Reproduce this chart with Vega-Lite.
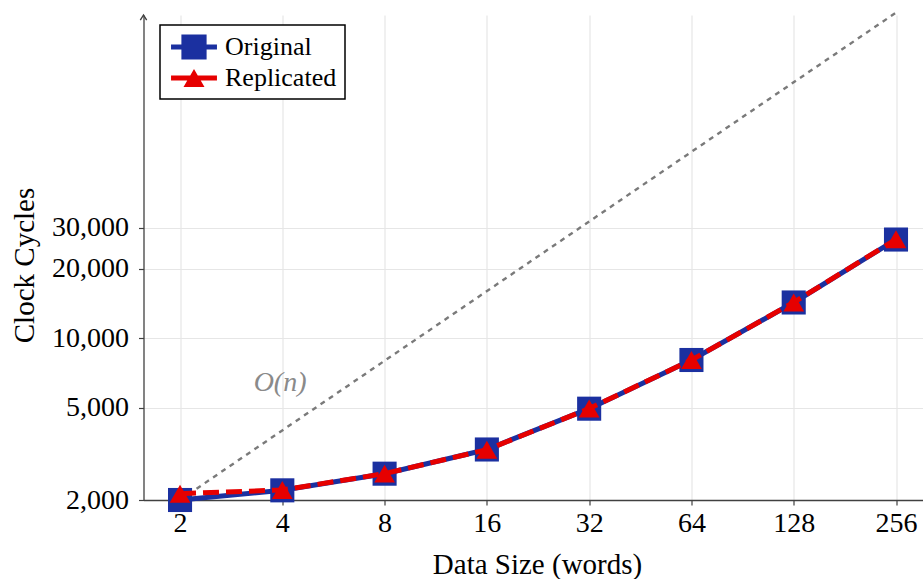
{
  "$schema": "https://vega.github.io/schema/vega-lite/v6.json",
  "autosize": "none",
  "width": 779.5,
  "height": 485,
  "padding": {"left": 143.5, "top": 15, "right": 0, "bottom": 79},
  "background": "white",
  "config": {
    "view": {"stroke": null},
    "font": "Liberation Serif",
    "axis": {
      "labelFont": "Liberation Serif",
      "titleFont": "Liberation Serif",
      "labelColor": "black",
      "titleColor": "black",
      "titleFontWeight": "normal",
      "domainColor": "#404040",
      "domainWidth": 1.3,
      "tickColor": "#404040",
      "tickWidth": 1.2,
      "tickSize": 5,
      "gridColor": "#e6e6e6",
      "gridWidth": 1.2
    },
    "legend": {
      "labelFont": "Liberation Serif",
      "labelColor": "black"
    }
  },
  "datasets": {
    "runs": [
      {"size": 2, "cycles": 2000, "series": "Original"},
      {"size": 4, "cycles": 2202, "series": "Original"},
      {"size": 8, "cycles": 2599, "series": "Original"},
      {"size": 16, "cycles": 3307, "series": "Original"},
      {"size": 32, "cycles": 4964, "series": "Original"},
      {"size": 64, "cycles": 8060, "series": "Original"},
      {"size": 128, "cycles": 14290, "series": "Original"},
      {"size": 256, "cycles": 26740, "series": "Original"},
      {"size": 2, "cycles": 2130, "series": "Replicated"},
      {"size": 4, "cycles": 2210, "series": "Replicated"},
      {"size": 8, "cycles": 2600, "series": "Replicated"},
      {"size": 16, "cycles": 3300, "series": "Replicated"},
      {"size": 32, "cycles": 4970, "series": "Replicated"},
      {"size": 64, "cycles": 8060, "series": "Replicated"},
      {"size": 128, "cycles": 14300, "series": "Replicated"},
      {"size": 256, "cycles": 26800, "series": "Replicated"}
    ],
    "ref": [
      {"size": 2, "cycles": 2000},
      {"size": 256, "cycles": 256000}
    ],
    "note": [
      {"size": 3.94, "cycles": 6410, "label": "O(n)"}
    ],
    "arrow": [
      {"size": 1.5614, "cycles": 250000}
    ]
  },
  "encoding": {
    "x": {
      "field": "size",
      "type": "quantitative",
      "scale": {"type": "log", "base": 2, "domain": [1.5614, 307.4], "nice": false, "zero": false},
      "axis": {
        "values": [2, 4, 8, 16, 32, 64, 128, 256],
        "format": "d",
        "title": "Data Size (words)",
        "labelFontSize": 28,
        "labelPadding": 4,
        "titleFontSize": 29,
        "titleX": 393.5,
        "titleY": 73,
        "titleBaseline": "alphabetic",
        "titleAnchor": null
      }
    },
    "y": {
      "field": "cycles",
      "type": "quantitative",
      "scale": {"type": "log", "domain": [2000, 250000], "nice": false, "zero": false},
      "axis": {
        "values": [2000, 5000, 10000, 20000, 30000],
        "format": ",d",
        "title": "Clock Cycles",
        "labelFontSize": 28,
        "labelPadding": 10,
        "titleFontSize": 29,
        "titleAngle": -90,
        "titleX": -110.5,
        "titleY": 250,
        "titleAlign": "center",
        "titleBaseline": "alphabetic"
      }
    }
  },
  "layer": [
    {
      "data": {"name": "ref"},
      "mark": {"type": "line", "color": "#7a7a7a", "strokeWidth": 2.4, "strokeDash": [5, 5]},
      "encoding": {}
    },
    {
      "data": {"name": "note"},
      "mark": {"type": "text", "fontSize": 28, "fontStyle": "italic", "color": "#8a8a8a", "font": "Liberation Serif", "align": "center", "baseline": "middle"},
      "encoding": {"text": {"field": "label"}}
    },
    {
      "data": {"name": "arrow"},
      "mark": {"type": "point", "shape": "M-0.8,1.3L0,0L0.8,1.3", "filled": false, "size": 64, "strokeWidth": 1.4, "color": "#404040", "opacity": 1},
      "encoding": {}
    },
    {
      "data": {"name": "runs"},
      "transform": [{"filter": "datum.series === 'Original'"}],
      "mark": {"type": "line", "strokeWidth": 5},
      "encoding": {
        "color": {
          "field": "series",
          "type": "nominal",
          "scale": {"domain": ["Original", "Replicated"], "range": ["#1b30a0", "#e60000"]},
          "legend": {
            "title": null,
            "orient": "none",
            "legendX": 16.5,
            "legendY": 10,
            "padding": 8,
            "strokeColor": "black",
            "fillColor": "white",
            "cornerRadius": 0,
            "labelFontSize": 26,
            "labelOffset": 17,
            "symbolSize": 784,
            "symbolOffset": 12,
            "rowPadding": 4,
            "symbolStrokeWidth": 0,
            "encode": {
              "legend": {
                "update": {"strokeWidth": {"value": 1.5}}
              },
              "symbols": {
                "update": {
                  "shape": {"signal": "datum.value === 'Original' ? 'M-1.64,-0.18H-0.9V-0.9H0.9V-0.18H1.64V0.18H0.9V0.9H-0.9V0.18H-1.64Z' : 'M-1.64,-0.18H-0.27L0,-0.64L0.27,-0.18H1.64V0.18H0.48L0.75,0.64H-0.75L-0.48,0.18H-1.64Z'"},
                  "fill": {"signal": "datum.value === 'Original' ? '#1b30a0' : '#e60000'"},
                  "stroke": {"value": "transparent"},
                  "strokeDash": {"value": [1, 0]},
                  "opacity": {"value": 1}
                }
              }
            }
          }
        }
      }
    },
    {
      "data": {"name": "runs"},
      "transform": [{"filter": "datum.series === 'Original'"}],
      "mark": {"type": "point", "shape": "square", "filled": true, "size": 580, "opacity": 1},
      "encoding": {
        "color": {"field": "series", "type": "nominal"}
      }
    },
    {
      "data": {"name": "runs"},
      "transform": [{"filter": "datum.series === 'Replicated'"}],
      "mark": {"type": "line", "strokeWidth": 5, "strokeDash": [16, 7]},
      "encoding": {
        "color": {"field": "series", "type": "nominal"}
      }
    },
    {
      "data": {"name": "runs"},
      "transform": [{"filter": "datum.series === 'Replicated'"}],
      "mark": {"type": "point", "shape": "triangle-up", "filled": true, "size": 430, "opacity": 1},
      "encoding": {
        "color": {"field": "series", "type": "nominal"}
      }
    }
  ]
}
